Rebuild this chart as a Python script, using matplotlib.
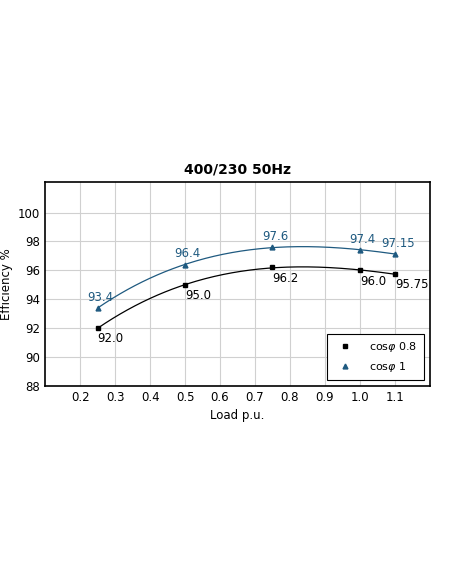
import numpy as np
import matplotlib
matplotlib.use("Agg")
import matplotlib.pyplot as plt

load = [0.25, 0.5, 0.75, 1.0, 1.1]
eff_08 = [92.0, 95.0, 96.2, 96.0, 95.75]
eff_1 = [93.4, 96.4, 97.6, 97.4, 97.15]
lab_08 = ["92.0", "95.0", "96.2", "96.0", "95.75"]
lab_1 = ["93.4", "96.4", "97.6", "97.4", "97.15"]
xticks = [0.2, 0.3, 0.4, 0.5, 0.6, 0.7, 0.8, 0.9, 1.0, 1.1]
xticklabels = ["0.2", "0.3", "0.4", "0.5", "0.6", "0.7", "0.8", "0.9", "1.0", "1.1"]

plt.rcParams['font.family'] = ['DejaVu Sans']
fig = plt.figure(figsize=(4.52, 5.84), dpi=100)
ax = fig.add_axes([0.1, 0.339, 0.851, 0.349])
blue = "#1f5a80"
xs = np.linspace(0.25, 1.1, 200)
for y, c, m, lab in [(eff_08, "black", "s", "cos$\\varphi$ 0.8"), (eff_1, blue, "^", "cos$\\varphi$ 1")]:
    p = np.polyfit(load, y, 3)
    ax.plot(xs, np.polyval(p, xs), color=c, lw=0.9)
    ax.plot(load, y, m, color=c, ms=3.5, ls="none", label=lab)
for x, y, t in zip(load, eff_08, lab_08):
    ax.annotate(t, (x, y), xytext=(0, -3), textcoords="offset points", ha="left", va="top", fontsize=8.5)
for x, y, t in zip(load, eff_1, lab_1):
    ax.annotate(t, (x, y), xytext=(2, 3), textcoords="offset points", ha="center", va="bottom", fontsize=8.5, color=blue)
ax.set_xlim(0.1, 1.2)
ax.set_ylim(88, 102.1)
ax.set_xticks(xticks)
ax.set_xticklabels(xticklabels)
ax.set_yticks(range(88, 101, 2))
ax.tick_params(labelsize=8.5, length=0)
ax.grid(True, color="#d0d0d0", lw=0.8)
for s in ax.spines.values():
    s.set_linewidth(1.2)
ax.set_xlabel("Load p.u.", fontsize=8.5)
ax.set_ylabel("Efficiency %", fontsize=8.5)
ax.set_title("400/230 50Hz", fontsize=10, fontweight="bold")
leg = ax.legend(loc="lower right", fontsize=8, fancybox=False, edgecolor="black", framealpha=1, handletextpad=1.2, borderpad=0.6)
leg.get_frame().set_linewidth(0.8)
fig.savefig("out.png", dpi=100)
